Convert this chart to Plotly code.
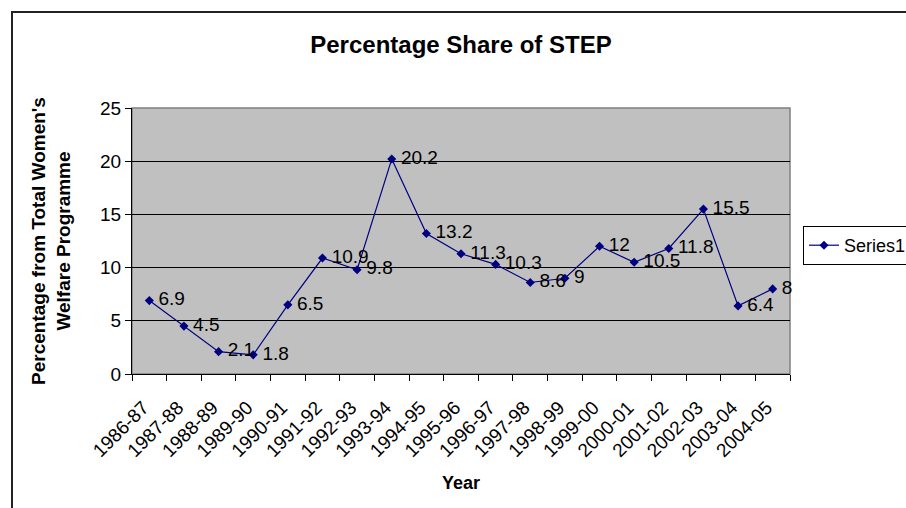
import plotly.graph_objects as go

years = ["1986-87", "1987-88", "1988-89", "1989-90", "1990-91", "1991-92", "1992-93",
         "1993-94", "1994-95", "1995-96", "1996-97", "1997-98", "1998-99", "1999-00",
         "2000-01", "2001-02", "2002-03", "2003-04", "2004-05"]
share = [6.9, 4.5, 2.1, 1.8, 6.5, 10.9, 9.8, 20.2, 13.2, 11.3, 10.3, 8.6, 9, 12,
         10.5, 11.8, 15.5, 6.4, 8]
labels = ["6.9", "4.5", "2.1", "1.8", "6.5", "10.9", "9.8", "20.2", "13.2", "11.3",
          "10.3", "8.6", "9", "12", "10.5", "11.8", "15.5", "6.4", "8"]

W, H = 906, 508
L, R, T, B = 132, 790, 108, 374
pw, ph = R - L, B - T

FONT = "Liberation Sans, Arial, sans-serif"

fig = go.Figure()
fig.add_trace(go.Scatter(
    x=years, y=share, name="Series1",
    mode="lines+markers+text",
    text=["\u2009" + t for t in labels], textposition="middle right",
    textfont=dict(family=FONT, size=19, color="black"),
    line=dict(color="#000080", width=1.2),
    marker=dict(symbol="diamond", size=7, color="#000080"),
    cliponaxis=False,
))


def px_x(p):
    return (p - L) / pw


def px_y(p):
    return (B - p) / ph


fig.update_layout(
    width=W, height=H,
    margin=dict(l=L, r=W - R, t=T, b=H - B, autoexpand=False),
    paper_bgcolor="white",
    plot_bgcolor="#C0C0C0",
    font=dict(family=FONT, size=19, color="black"),
    title=dict(text="<b>Percentage Share of STEP</b>", x=0.5, xref="paper",
               xanchor="center", y=1 - 45 / H, yanchor="middle",
               font=dict(family=FONT, size=24, color="black")),
    showlegend=True,
    legend=dict(x=px_x(803), y=px_y(226), xanchor="left", yanchor="top",
                bordercolor="black", borderwidth=1, bgcolor="white",
                font=dict(family=FONT, size=18, color="black"),
                itemwidth=30, tracegroupgap=0),
    xaxis=dict(
        type="category", range=[-0.5, len(years) - 0.5],
        showline=True, linecolor="black", linewidth=1,
        ticks="outside", ticklen=6, tickcolor="black", tickson="boundaries",
        tickangle=-45, tickfont=dict(family=FONT, size=19),
        ticklabelstandoff=14, ticklabelshift=-6,
        showgrid=False, zeroline=False,
        title=dict(text="<b>Year</b>", font=dict(family=FONT, size=18), standoff=16),
        automargin=False,
    ),
    yaxis=dict(
        range=[0, 25], tickvals=[0, 5, 10, 15, 20, 25],
        showline=True, linecolor="black", linewidth=1,
        ticks="outside", ticklen=6, tickcolor="black",
        showgrid=True, gridcolor="black", gridwidth=1,
        zeroline=False, tickfont=dict(family=FONT, size=19),
        title=dict(text="<b>Percentage from Total Women's<br>Welfare Programme</b>",
                   font=dict(family=FONT, size=19), standoff=24),
        automargin=False,
    ),
    shapes=[
        dict(type="rect", xref="paper", yref="paper", x0=0, x1=1, y0=0, y1=1,
             line=dict(color="#808080", width=1.5), layer="below"),
        dict(type="rect", xref="paper", yref="paper",
             x0=px_x(12), x1=px_x(1000), y0=px_y(700), y1=px_y(12),
             line=dict(color="#222222", width=2), fillcolor="rgba(0,0,0,0)"),
    ],
)

fig.write_html("out.html")
